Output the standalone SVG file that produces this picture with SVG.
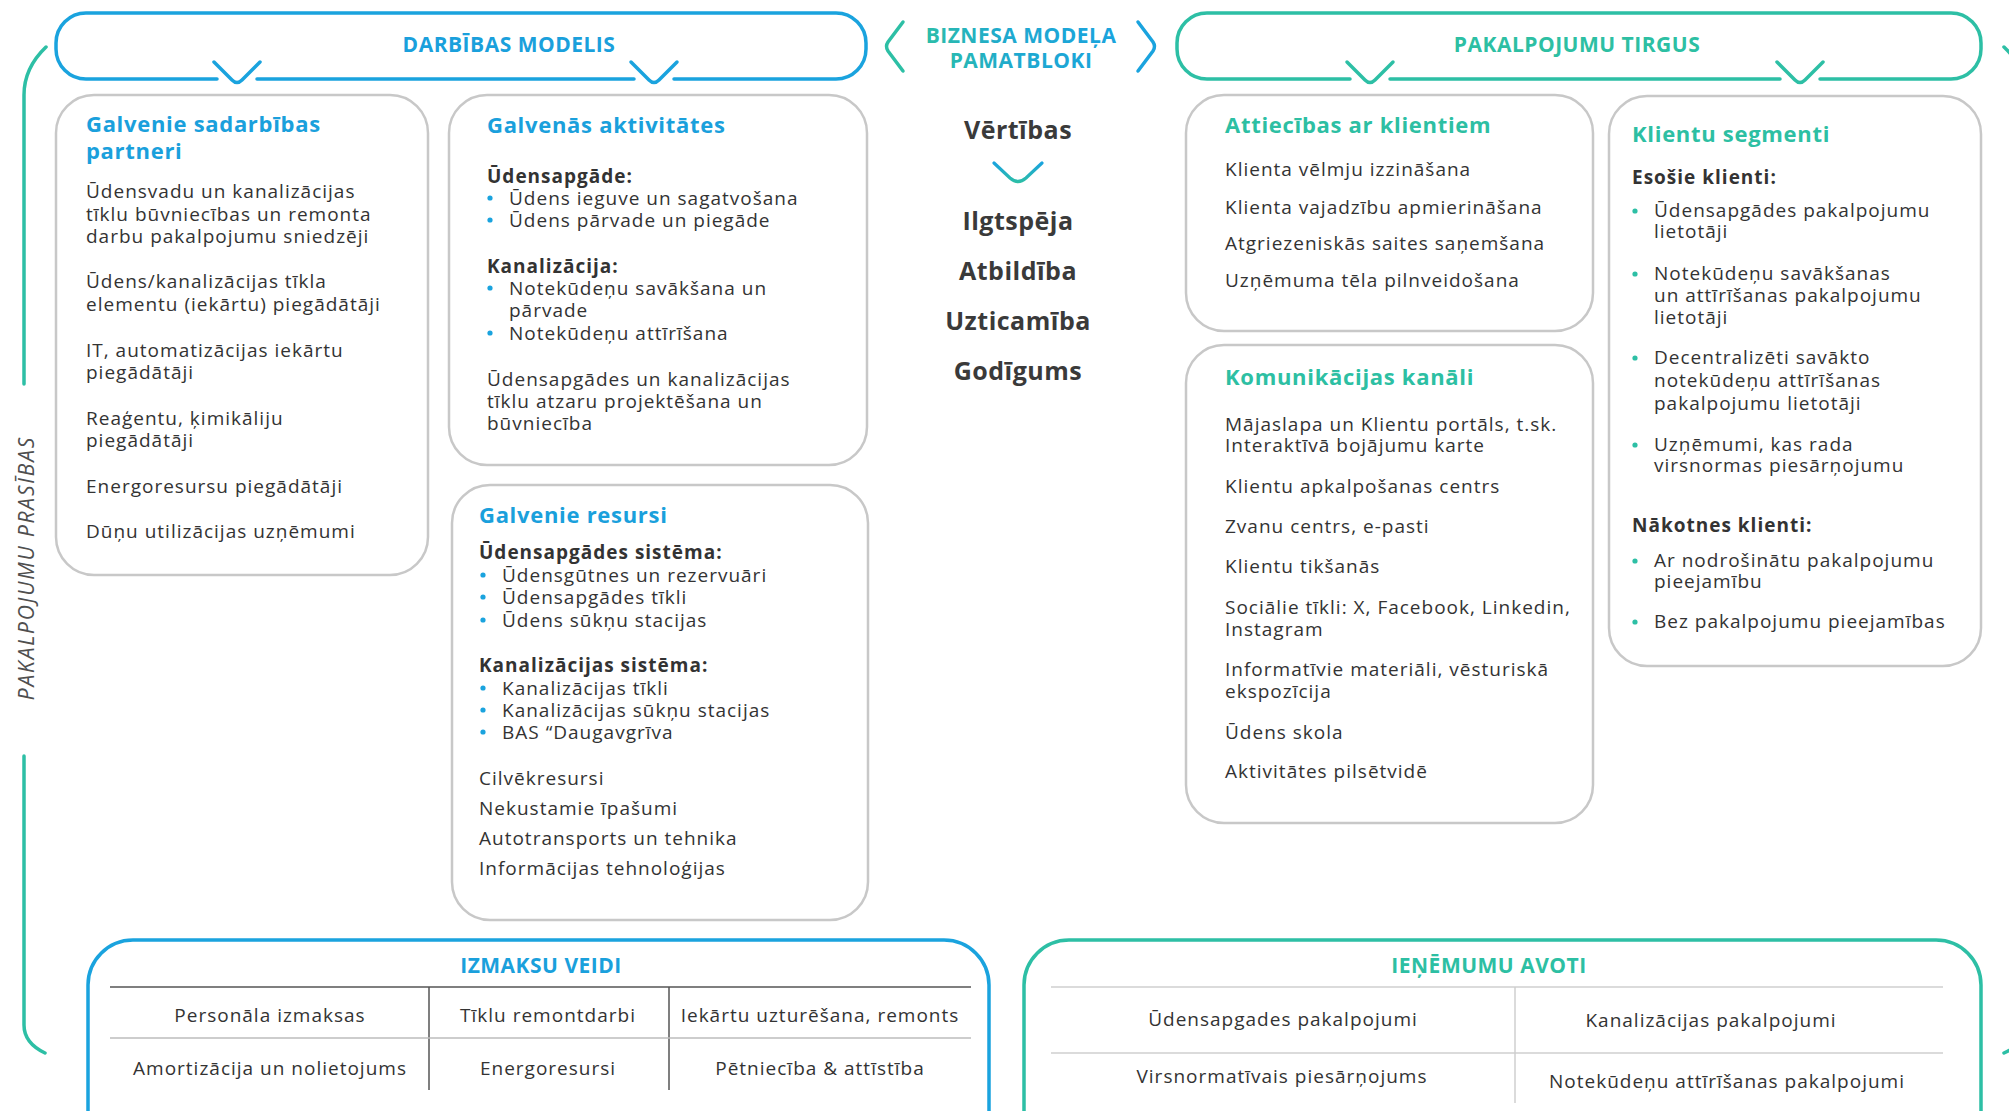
<svg xmlns="http://www.w3.org/2000/svg" width="2009" height="1111" viewBox="0 0 2009 1111">
<defs>
<linearGradient id="gBrand" gradientUnits="userSpaceOnUse" x1="930" y1="75" x2="1110" y2="15">
<stop offset="0" stop-color="#2dbfa5"/><stop offset="0.45" stop-color="#1fa9cf"/><stop offset="1" stop-color="#1aa3de"/>
</linearGradient>
<linearGradient id="gChev" gradientUnits="userSpaceOnUse" x1="0" y1="163" x2="0" y2="183">
<stop offset="0" stop-color="#1aa3de"/><stop offset="1" stop-color="#2dbfa5"/>
</linearGradient>
<style>
text{font-family:'Open Sans','Liberation Sans',sans-serif}
.t{font-size:19px;letter-spacing:1px;fill:#333333}
.lb{font-size:19px;font-weight:700;letter-spacing:1px;fill:#333333}
.h{font-size:22px;font-weight:700;letter-spacing:0.7px}
.hb{fill:#1aa0dc}
.ht{fill:#2dbfa3}
.ban{font-size:21px;font-weight:700;letter-spacing:0.5px;text-anchor:middle}
.val{font-size:25px;font-weight:700;fill:#3a3a3a;text-anchor:middle;letter-spacing:0.5px}
.c{text-anchor:middle}
.card{fill:none;stroke:#c8c8c8;stroke-width:2.5}
.bl{stroke:#1aa3de;stroke-width:3.5;fill:none;stroke-linecap:round;stroke-linejoin:round}
.tl{stroke:#2dbfa5;stroke-width:3.5;fill:none;stroke-linecap:round;stroke-linejoin:round}
.db{fill:#1aa3de}
.dt{fill:#2dbfa5}
</style>
</defs>
<rect width="2009" height="1111" fill="#ffffff"/>

<g id="side-brackets">
<path class="tl" d="M 46,47 Q 24,68 24,95 V 384"/>
<path class="tl" d="M 24,756 V 1025 Q 24,1043 45,1053"/>
<path class="tl" d="M 2004,47 Q 2026,68 2026,95 V 1025 Q 2026,1043 2004,1053"/>
<text transform="translate(34,568) rotate(-90)" text-anchor="middle" font-size="21" font-style="italic" letter-spacing="1.8" fill="#4f4f4f">PAKALPOJUMU PRASĪBAS</text>
</g>

<g id="banner-darbibas">
<path class="bl" d="M 257,79 H 634 M 674,79 H 836 A 30 30 0 0 0 866,49 V 43 A 30 30 0 0 0 836,13 H 86 A 30 30 0 0 0 56,43 V 49 A 30 30 0 0 0 86,79 H 217"/>
<path class="bl" d="M 214,62 L 232,80 Q 237,85 242,80 L 260,62"/>
<path class="bl" d="M 631,62 L 649,80 Q 654,85 659,80 L 677,62"/>
<text class="ban hb" x="509" y="52">DARBĪBAS MODELIS</text>
</g>

<g id="banner-pamatbloki">
<path d="M 903,22 L 888,42 Q 885,46.5 888,51 L 903,71" fill="none" stroke="url(#gBrand)" stroke-width="3.5" stroke-linecap="round"/>
<path d="M 1138,22 L 1153,42 Q 1156,46.5 1153,51 L 1138,71" fill="none" stroke="url(#gBrand)" stroke-width="3.5" stroke-linecap="round"/>
<text class="ban" x="1021" y="43" fill="url(#gBrand)">BIZNESA MODEĻA</text>
<text class="ban" x="1021" y="68" fill="url(#gBrand)">PAMATBLOKI</text>
</g>

<g id="banner-tirgus">
<path class="tl" d="M 1390,79 H 1780 M 1820,79 H 1951 A 30 30 0 0 0 1981,49 V 43 A 30 30 0 0 0 1951,13 H 1207 A 30 30 0 0 0 1177,43 V 49 A 30 30 0 0 0 1207,79 H 1350"/>
<path class="tl" d="M 1347,62 L 1365,80 Q 1370,85 1375,80 L 1393,62"/>
<path class="tl" d="M 1777,62 L 1795,80 Q 1800,85 1805,80 L 1823,62"/>
<text class="ban ht" x="1577" y="52">PAKALPOJUMU TIRGUS</text>
</g>

<g id="partneri">
<rect class="card" x="56" y="95" width="372" height="480" rx="38"/>
<text class="h hb" x="86" y="132">Galvenie sadarbības</text>
<text class="h hb" x="86" y="159">partneri</text>
<text class="t" x="86" y="198">Ūdensvadu un kanalizācijas</text>
<text class="t" x="86" y="221">tīklu būvniecības un remonta</text>
<text class="t" x="86" y="243">darbu pakalpojumu sniedzēji</text>
<text class="t" x="86" y="288">Ūdens/kanalizācijas tīkla</text>
<text class="t" x="86" y="311">elementu (iekārtu) piegādātāji</text>
<text class="t" x="86" y="357">IT, automatizācijas iekārtu</text>
<text class="t" x="86" y="379">piegādātāji</text>
<text class="t" x="86" y="425">Reaģentu, ķimikāliju</text>
<text class="t" x="86" y="447">piegādātāji</text>
<text class="t" x="86" y="493">Energoresursu piegādātāji</text>
<text class="t" x="86" y="538">Dūņu utilizācijas uzņēmumi</text>
</g>

<g id="aktivitates">
<rect class="card" x="449" y="95" width="418" height="370" rx="38"/>
<text class="h hb" x="487" y="133">Galvenās aktivitātes</text>
<text class="lb" x="487" y="183">Ūdensapgāde:</text>
<circle class="db" cx="490" cy="198" r="2.6"/>
<text class="t" x="509" y="205">Ūdens ieguve un sagatvošana</text>
<circle class="db" cx="490" cy="220" r="2.6"/>
<text class="t" x="509" y="227">Ūdens pārvade un piegāde</text>
<text class="lb" x="487" y="273">Kanalizācija:</text>
<circle class="db" cx="490" cy="288" r="2.6"/>
<text class="t" x="509" y="295">Notekūdeņu savākšana un</text>
<text class="t" x="509" y="317">pārvade</text>
<circle class="db" cx="490" cy="333" r="2.6"/>
<text class="t" x="509" y="340">Notekūdeņu attīrīšana</text>
<text class="t" x="487" y="386">Ūdensapgādes un kanalizācijas</text>
<text class="t" x="487" y="408">tīklu atzaru projektēšana un</text>
<text class="t" x="487" y="430">būvniecība</text>
</g>

<g id="resursi">
<rect class="card" x="452" y="485" width="416" height="435" rx="38"/>
<text class="h hb" x="479" y="523">Galvenie resursi</text>
<text class="lb" x="479" y="559">Ūdensapgādes sistēma:</text>
<circle class="db" cx="483" cy="575" r="2.6"/>
<text class="t" x="502" y="582">Ūdensgūtnes un rezervuāri</text>
<circle class="db" cx="483" cy="597" r="2.6"/>
<text class="t" x="502" y="604">Ūdensapgādes tīkli</text>
<circle class="db" cx="483" cy="620" r="2.6"/>
<text class="t" x="502" y="627">Ūdens sūkņu stacijas</text>
<text class="lb" x="479" y="672">Kanalizācijas sistēma:</text>
<circle class="db" cx="483" cy="688" r="2.6"/>
<text class="t" x="502" y="695">Kanalizācijas tīkli</text>
<circle class="db" cx="483" cy="710" r="2.6"/>
<text class="t" x="502" y="717">Kanalizācijas sūkņu stacijas</text>
<circle class="db" cx="483" cy="732" r="2.6"/>
<text class="t" x="502" y="739">BAS “Daugavgrīva</text>
<text class="t" x="479" y="785">Cilvēkresursi</text>
<text class="t" x="479" y="815">Nekustamie īpašumi</text>
<text class="t" x="479" y="845">Autotransports un tehnika</text>
<text class="t" x="479" y="875">Informācijas tehnoloģijas</text>
</g>

<g id="vertibas">
<text class="val" x="1018" y="139" font-size="29">Vērtības</text>
<path d="M 994,163 L 1010,178 Q 1018,185 1026,178 L 1042,163" fill="none" stroke="url(#gChev)" stroke-width="3.2" stroke-linecap="round"/>
<text class="val" x="1018" y="230">Ilgtspēja</text>
<text class="val" x="1018" y="280">Atbildība</text>
<text class="val" x="1018" y="330">Uzticamība</text>
<text class="val" x="1018" y="380">Godīgums</text>
</g>

<g id="attiecibas">
<rect class="card" x="1186" y="95" width="407" height="236" rx="38"/>
<text class="h ht" x="1225" y="133">Attiecības ar klientiem</text>
<text class="t" x="1225" y="176">Klienta vēlmju izzināšana</text>
<text class="t" x="1225" y="214">Klienta vajadzību apmierināšana</text>
<text class="t" x="1225" y="250">Atgriezeniskās saites saņemšana</text>
<text class="t" x="1225" y="287">Uzņēmuma tēla pilnveidošana</text>
</g>

<g id="kanali">
<rect class="card" x="1186" y="345" width="407" height="478" rx="38"/>
<text class="h ht" x="1225" y="385">Komunikācijas kanāli</text>
<text class="t" x="1225" y="431">Mājaslapa un Klientu portāls, t.sk.</text>
<text class="t" x="1225" y="452">Interaktīvā bojājumu karte</text>
<text class="t" x="1225" y="493">Klientu apkalpošanas centrs</text>
<text class="t" x="1225" y="533">Zvanu centrs, e-pasti</text>
<text class="t" x="1225" y="573">Klientu tikšanās</text>
<text class="t" x="1225" y="614">Sociālie tīkli: X, Facebook, Linkedin,</text>
<text class="t" x="1225" y="636">Instagram</text>
<text class="t" x="1225" y="676">Informatīvie materiāli, vēsturiskā</text>
<text class="t" x="1225" y="698">ekspozīcija</text>
<text class="t" x="1225" y="739">Ūdens skola</text>
<text class="t" x="1225" y="778">Aktivitātes pilsētvidē</text>
</g>

<g id="segmenti">
<rect class="card" x="1609" y="96" width="372" height="570" rx="38"/>
<text class="h ht" x="1632" y="142">Klientu segmenti</text>
<text class="lb" x="1632" y="184">Esošie klienti:</text>
<circle class="dt" cx="1635" cy="211" r="2.6"/>
<text class="t" x="1654" y="217">Ūdensapgādes pakalpojumu</text>
<text class="t" x="1654" y="238">lietotāji</text>
<circle class="dt" cx="1635" cy="274" r="2.6"/>
<text class="t" x="1654" y="280">Notekūdeņu savākšanas</text>
<text class="t" x="1654" y="302">un attīrīšanas pakalpojumu</text>
<text class="t" x="1654" y="324">lietotāji</text>
<circle class="dt" cx="1635" cy="358" r="2.6"/>
<text class="t" x="1654" y="364">Decentralizēti savākto</text>
<text class="t" x="1654" y="387">notekūdeņu attīrīšanas</text>
<text class="t" x="1654" y="410">pakalpojumu lietotāji</text>
<circle class="dt" cx="1635" cy="445" r="2.6"/>
<text class="t" x="1654" y="451">Uzņēmumi, kas rada</text>
<text class="t" x="1654" y="472">virsnormas piesārņojumu</text>
<text class="lb" x="1632" y="532">Nākotnes klienti:</text>
<circle class="dt" cx="1635" cy="561" r="2.6"/>
<text class="t" x="1654" y="567">Ar nodrošinātu pakalpojumu</text>
<text class="t" x="1654" y="588">pieejamību</text>
<circle class="dt" cx="1635" cy="622" r="2.6"/>
<text class="t" x="1654" y="628">Bez pakalpojumu pieejamības</text>
</g>

<g id="izmaksu-veidi">
<path class="bl" d="M 88,1116 V 985 A 45 45 0 0 1 133,940 H 944 A 45 45 0 0 1 989,985 V 1116"/>
<text class="ban hb" x="541" y="973">IZMAKSU VEIDI</text>
<path d="M 110,987 H 971 M 429,987 V 1090 M 669,987 V 1090" stroke="#555" stroke-width="1.5" fill="none"/>
<path d="M 110,1038 H 971" stroke="#bdbdbd" stroke-width="1.5"/>
<text class="t c" x="270" y="1022">Personāla izmaksas</text>
<text class="t c" x="548" y="1022">Tīklu remontdarbi</text>
<text class="t c" x="820" y="1022">Iekārtu uzturēšana, remonts</text>
<text class="t c" x="270" y="1075">Amortizācija un nolietojums</text>
<text class="t c" x="548" y="1075">Energoresursi</text>
<text class="t c" x="820" y="1075">Pētniecība &amp; attīstība</text>
</g>

<g id="ienemumu-avoti">
<path class="tl" d="M 1024,1116 V 985 A 45 45 0 0 1 1069,940 H 1936 A 45 45 0 0 1 1981,985 V 1116"/>
<text class="ban ht" x="1489" y="973">IEŅĒMUMU AVOTI</text>
<path d="M 1051,987 H 1943 M 1051,1053 H 1943 M 1515,987 V 1103" stroke="#cfcfcf" stroke-width="1.5" fill="none"/>
<text class="t c" x="1283" y="1026">Ūdensapgades pakalpojumi</text>
<text class="t c" x="1711" y="1027">Kanalizācijas pakalpojumi</text>
<text class="t c" x="1282" y="1083">Virsnormatīvais piesārņojums</text>
<text class="t c" x="1727" y="1088">Notekūdeņu attīrīšanas pakalpojumi</text>
</g>
</svg>
